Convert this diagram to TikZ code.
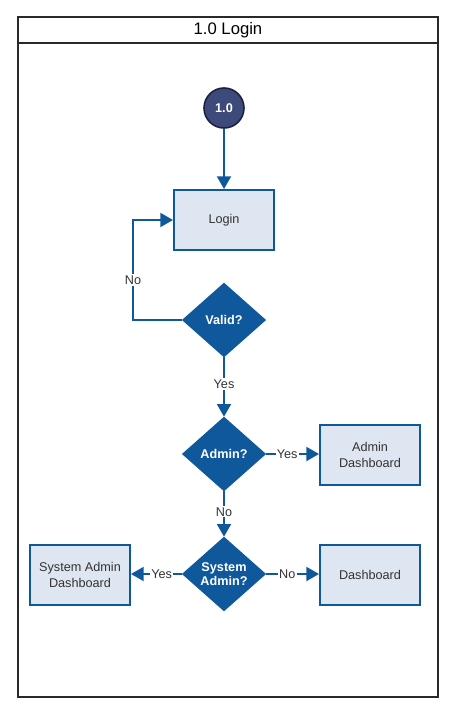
\documentclass[tikz,border=0pt]{standalone}
\usepackage{fontspec}
\setmainfont{Liberation Sans}
\usetikzlibrary{shapes.geometric,arrows.meta,positioning}

\definecolor{flowblue}{HTML}{10589C}
\definecolor{boxfill}{HTML}{DEE6F1}
\definecolor{startfill}{HTML}{3D4A7A}
\definecolor{startline}{HTML}{1C2340}
\definecolor{txtgray}{HTML}{333333}

\tikzset{
  procbox/.style={draw=flowblue, line width=1.5pt, fill=boxfill, minimum width=75pt,
    minimum height=45pt, align=center, font=\fontsize{9.5}{11.5}\selectfont, text=txtgray},
  decide/.style={diamond, draw=flowblue, fill=flowblue, line width=1pt, inner sep=0pt,
    minimum width=62pt, minimum height=55pt, align=center, text=white,
    font=\bfseries\fontsize{9.5}{10.5}\selectfont},
  startnode/.style={circle, draw=startline, fill=startfill, line width=1.2pt,
    minimum size=30pt, inner sep=0pt, text=white, font=\bfseries\fontsize{9.5}{11}\selectfont},
  flow/.style={draw=flowblue, line width=1.5pt, -{Triangle[width=10.5pt,length=9.5pt]}},
  lbl/.style={fill=white, inner sep=1pt, text=txtgray, font=\fontsize{9.5}{11}\selectfont}
}

\begin{document}
\begin{tikzpicture}[x=0.75pt, y=-0.75pt]
      \useasboundingbox (0,0) rectangle (460,717);

      % frame with title bar
      \draw[txtgray!80!black, line width=1.5pt] (18,17) rectangle (438,697);
      \draw[txtgray!80!black, line width=1.5pt] (18,43) -- (438,43);
      \node[font=\fontsize{12.5}{14}\selectfont] (title) at (228,30) {1.0 Login};

      \node[startnode] (start) at (224,108) {1.0};
      \node[procbox] (login) at (224,220) {Login};
      \node[decide] (valid) at (224,320) {Valid?};
      \node[decide] (admin) at (224,454) {Admin?};
      \node[decide] (sysadmin) at (224,574) {System\\Admin?};

      \node[procbox] (admindash) at (370,455) {Admin\\Dashboard};
      \node[procbox] (dash) at (370,575) {Dashboard};
      \node[procbox] (sysdash) at (80,575) {System Admin\\Dashboard};

      \coordinate (loop) at (133,320);

      \draw[flow] (start) -- (login);
      \draw[flow] (valid.west) -- (loop) -- node[lbl, pos=0.4] {No} (loop |- login.west) -- (login.west);
      \draw[flow] (valid) -- node[lbl, pos=0.45] {Yes} (admin);
      \draw[flow] (admin) -- node[lbl, pos=0.4] {Yes} (admin -| admindash.west);
      \draw[flow] (admin) -- node[lbl, pos=0.45] {No} (sysadmin);
      \draw[flow] (sysadmin) -- node[lbl, pos=0.4] {No} (sysadmin -| dash.west);
      \draw[flow] (sysadmin) -- node[lbl, pos=0.4] {Yes} (sysadmin -| sysdash.east);
    \end{tikzpicture}
\end{document}
